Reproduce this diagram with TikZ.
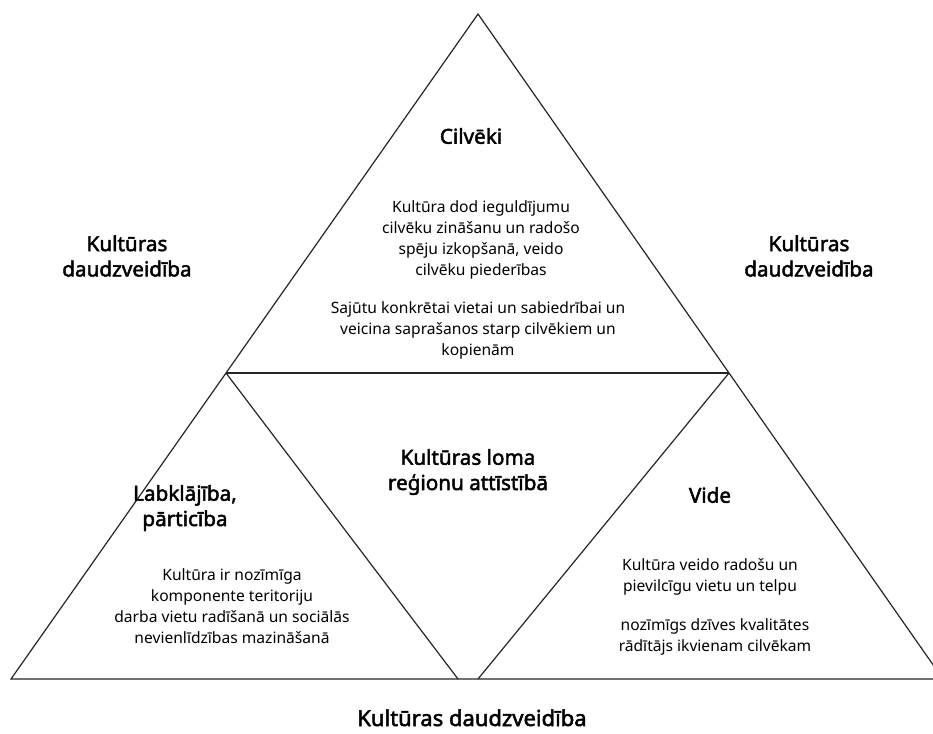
\documentclass[tikz,border=0pt]{standalone}
\usepackage{fontspec}
\setmainfont{Noto Sans}[BoldFont={Noto Sans},BoldFeatures={FakeBold=2.2}]
\begin{document}
\begin{tikzpicture}[x=0.75pt,y=-0.75pt,
  edge/.style={draw=black!85,line width=0.9pt,line join=miter},
  body/.style={align=center,inner sep=0pt,font=\fontsize{11.7}{15.75}\selectfont},
  title/.style={align=center,inner sep=0pt,font=\fontsize{15.5}{19}\selectfont\bfseries}]
\clip (0,0) rectangle (933,733);
\fill[white] (0,0) rectangle (933,733);
% corners
\coordinate (apex) at (478,14);
\coordinate (ml) at (226,373);
\coordinate (mr) at (729,373);
\coordinate (bl) at (11,679);
\coordinate (bm1) at (458,679);
\coordinate (bm2) at (478,679);
\coordinate (br) at (943,679);
\coordinate (bend) at (933,679);
% lines
\draw[edge] (ml) -- (apex) -- (mr);
\draw[edge] (ml) -- (mr);
\draw[edge] (ml) -- (bl) -- (bend);
\draw[edge] (ml) -- (bm1);
\draw[edge] (mr) -- (bm2);
\draw[edge] (mr) -- (br);
% texts
\node[title] (cil) at (471,136) {Cilvēki};
\node[body] (cilA) at (481,240) {Kultūra dod ieguldījumu\\cilvēku zināšanu un radošo\\spēju izkopšanā, veido\\cilvēku piederības};
\node[body] (cilB) at (478,330) {Sajūtu konkrētai vietai un sabiedrībai un\\veicina saprašanos starp cilvēkiem un\\kopienām};
\node[title] (kl) at (127,256) {Kultūras\\daudzveidība};
\node[title] (kr) at (809,256) {Kultūras\\daudzveidība};
\node[title] (km) at (468,472) {Kultūras loma\\reģionu attīstībā};
\node[title] (lab) at (185,508) {Labklājība,\\pārticība};
\node[body] (labA) at (232,606) {Kultūra ir nozīmīga\\komponente teritoriju\\darba vietu radīšanā un sociālās\\nevienlīdzības mazināšanā};
\node[title] (vide) at (710,495) {Vide};
\node[body] (videA) at (710,577) {Kultūra veido radošu un\\pievilcīgu vietu un telpu};
\node[body] (videB) at (715,637) {nozīmīgs dzīves kvalitātes\\rādītājs ikvienam cilvēkam};
\node[title,anchor=base,font=\fontsize{16.5}{19}\selectfont\bfseries] (kb) at (472,726) {Kultūras daudzveidība};
\end{tikzpicture}
\end{document}
